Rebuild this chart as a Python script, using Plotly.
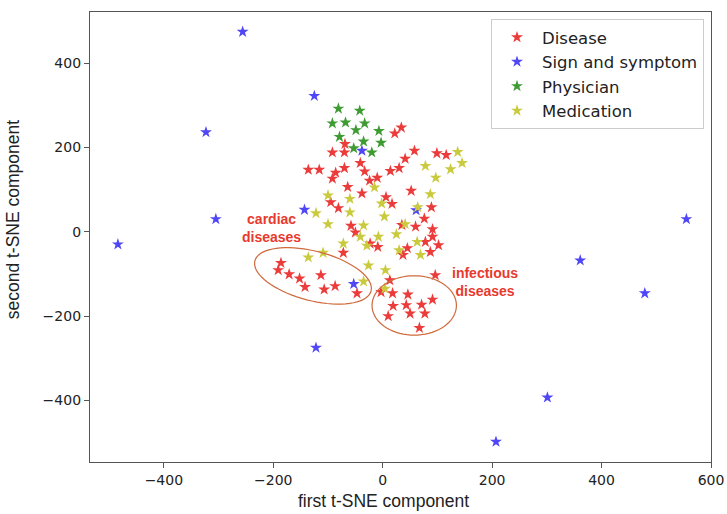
import math
import plotly.graph_objects as go

# ---------------- data ----------------
disease_x = [-69, -92, -70, 22, 34, 58, 99, 116, 41, -136, -116, -41, -33, -70, -86, -92,
             14, 30, -24, -10, -64, -38, 52, 89, 76, 6, 17, -95, -81, -58, 35, 60, 91, -50,
             91, 78, 102, 87, 45, 37, -23, -9, -72, 96, 13,
             -186, -191, -171, -152, -142, -113, -107, -87, -47, -3,
             18, 46, 19, 43, 71, 91, 10, 50, 77, 67]
disease_y = [208, 188, 188, 233, 247, 192, 186, 182, 173, 147, 147, 163, 143, 151, 140, 126,
             144, 151, 121, 128, 106, 91, 97, 58, 31, 82, 66, 70, 56, 14, 16, 12, 6, -2,
             -12, -24, -32, -48, -39, -55, -28, -36, -50, -103, -115,
             -74, -91, -101, -111, -131, -103, -137, -129, -146, -143,
             -146, -149, -176, -174, -173, -161, -200, -194, -194, -228]

symptom_x = [-256, -125, -323, -305, -484, -143, -38, 61, -53, -122, 361, 479, 555, 301, 207]
symptom_y = [474, 322, 236, 30, -30, 52, 192, 51, -124, -275, -68, -146, 30, -393, -498]

physician_x = [-81, -42, -92, -68, -33, -49, -7, -79, -35, -3, -53, -20]
physician_y = [292, 287, 257, 259, 257, 241, 239, 225, 214, 211, 198, 188]

medication_x = [137, 145, 78, 124, 97, -15, -100, -60, 87, -2, -60, -122, 3, 64, -100,
                -35, 41, 25, -8, -41, 63, 69, 30, -29, -72, -26, 5, -136, -109, -35, 4]
medication_y = [189, 163, 156, 148, 128, 105, 86, 78, 89, 67, 46, 44, 36, 58, 18,
                15, 18, -6, -12, -12, -24, -55, -44, -33, -28, -80, -91, -61, -50, -118, -135]

series_names = ["Disease", "Sign and symptom", "Physician", "Medication"]
x_ticks = [-400, -200, 0, 200, 400, 600]
y_ticks = [-400, -200, 0, 200, 400]
x_label = "first t-SNE component"
y_label = "second t-SNE component"
group_labels = ["cardiac<br>diseases", "infectious<br>diseases"]

# ---------------- layout constants ----------------
W, H = 727, 514
ML, MR, MT, MB = 90, 16, 12, 52
XR = [-535, 600]
YR = [-546, 521]
PW, PH = W - ML - MR, H - MT - MB
PX_X = PW / (XR[1] - XR[0])
PX_Y = PH / (YR[1] - YR[0])

colors = ["#EC3B3B", "#4F46F5", "#3E9B32", "#CACA3E"]

fig = go.Figure()
for name, xs, ys, c in zip(series_names,
                           [disease_x, symptom_x, physician_x, medication_x],
                           [disease_y, symptom_y, physician_y, medication_y],
                           colors):
    fig.add_trace(go.Scatter(
        x=xs, y=ys, mode="markers", name=name,
        marker=dict(symbol="star", size=9, color=c, line=dict(width=0)),
    ))


def ellipse_path(cx, cy, a_px, b_px, ang_deg, n=72):
    t = math.radians(ang_deg)
    pts = []
    for i in range(n + 1):
        u = 2 * math.pi * i / n
        dx = a_px * math.cos(u)
        dy = b_px * math.sin(u)
        rx = dx * math.cos(t) - dy * math.sin(t)
        ry = dx * math.sin(t) + dy * math.cos(t)
        pts.append((cx + rx / PX_X, cy + ry / PX_Y))
    return "M " + " L ".join(f"{px:.3f},{py:.3f}" for px, py in pts) + " Z"


ell_color = "#CF6A3C"
fig.add_shape(type="path", xref="x", yref="y",
              path=ellipse_path(-127.5, -104.7, 60, 24.7, -14.5),
              line=dict(color=ell_color, width=1.2))
fig.add_shape(type="path", xref="x", yref="y",
              path=ellipse_path(57.6, -174.8, 42.2, 29.7, 0),
              line=dict(color=ell_color, width=1.2))

txt_font = dict(family="Liberation Sans, Arial", size=14, color="#E8392E")


def bold_lines(s):
    return "<br>".join("<b>" + part + "</b>" for part in s.split("<br>"))


fig.add_annotation(x=-203, y=8, xref="x", yref="y", text=bold_lines(group_labels[0]),
                   showarrow=False, font=txt_font, align="center")
fig.add_annotation(x=186.6, y=-119.5, xref="x", yref="y", text=bold_lines(group_labels[1]),
                   showarrow=False, font=txt_font, align="center")

lab_font = dict(family="Liberation Sans, Arial", size=17.5, color="#222222")
fig.add_annotation(x=(383.3 - ML) / PW, y=0, xref="paper", yref="paper", text=x_label,
                   showarrow=False, font=lab_font, xanchor="center", yanchor="middle", yshift=-39)
fig.add_annotation(x=(13.3 - ML) / PW, y=(H - MB - 219) / PH, xref="paper", yref="paper", text=y_label,
                   showarrow=False, font=lab_font, textangle=-90, xanchor="center", yanchor="middle")

axis_common = dict(showgrid=False, zeroline=False, showline=True, mirror=True,
                   linecolor="#555555", linewidth=1.3, ticks="outside", ticklen=5,
                   tickcolor="#555555", tickwidth=1.2, automargin=False,
                   tickfont=dict(family="DejaVu Sans", size=14, color="#222222"))

fig.update_layout(
    width=W, height=H, autosize=False,
    margin=dict(l=ML, r=MR, t=MT, b=MB, autoexpand=False),
    paper_bgcolor="white", plot_bgcolor="white",
    xaxis=dict(range=XR, tickvals=x_ticks, **axis_common),
    yaxis=dict(range=YR, tickvals=y_ticks, **axis_common),
    legend=dict(x=(704 - ML) / PW, y=(H - MB - 19) / PH, xanchor="right", yanchor="top",
                bgcolor="rgba(255,255,255,0.85)", bordercolor="#CCCCCC", borderwidth=1,
                font=dict(family="DejaVu Sans", size=16.5, color="#222222"),
                itemsizing="trace", itemwidth=40),
    showlegend=True,
)

fig.write_html("out.html",
               config={"displayModeBar": False, "responsive": False},
               post_script="document.body.style.margin='0';document.body.style.overflow='hidden';")
